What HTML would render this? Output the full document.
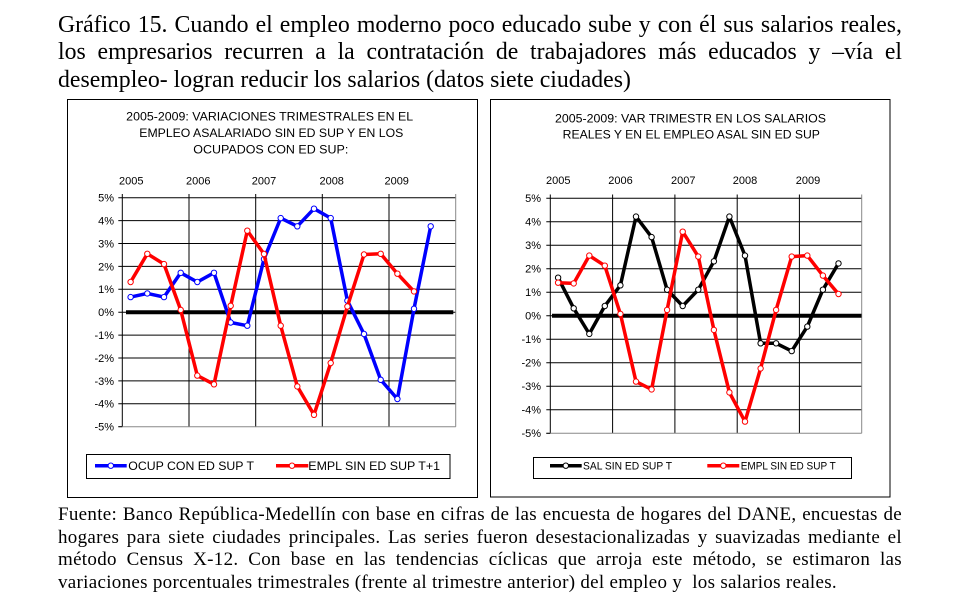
<!DOCTYPE html>
<html><head><meta charset="utf-8">
<style>
html,body{margin:0;padding:0;background:#fff;}
body{width:963px;height:607px;position:relative;overflow:hidden;}
.ser{font-family:"Liberation Serif","Times New Roman",serif;color:#000;position:absolute;left:58px;width:844px;}
.title{top:11.5px;font-size:23.8px;line-height:27.5px;}
.foot{top:503.8px;font-size:19px;line-height:22.7px;letter-spacing:0.3px;}
.j{text-align:justify;text-align-last:justify;white-space:nowrap;}
.l{text-align:left;white-space:nowrap;}
svg{position:absolute;left:0;top:0;}
svg text{font-family:"Liberation Sans",Arial,sans-serif;fill:#000;}
</style></head><body>
<div class="ser title">
<div class="j">Gráfico 15. Cuando el empleo moderno poco educado sube y con él sus salarios reales,</div>
<div class="j">los empresarios recurren a la contratación de trabajadores más educados y –vía el</div>
<div class="l">desempleo- logran reducir los salarios (datos siete ciudades)</div>
</div>
<div class="ser foot">
<div class="j">Fuente: Banco República-Medellín con base en cifras de las encuesta de hogares del DANE, encuestas de</div>
<div class="j">hogares para siete ciudades principales. Las series fueron desestacionalizadas y suavizadas mediante el</div>
<div class="j">método Census X-12. Con base en las tendencias cíclicas que arroja este método, se estimaron las</div>
<div class="l">variaciones porcentuales trimestrales (frente al trimestre anterior) del empleo y &nbsp;los salarios reales.</div>
</div>

<svg width="963" height="607" viewBox="0 0 963 607">
<!-- LEFT CHART -->
<rect x="67.5" y="99.5" width="410" height="398" fill="none" stroke="#000" stroke-width="1"/>
<text x="269.7" y="120.3" font-size="12" text-anchor="middle" textLength="287" lengthAdjust="spacingAndGlyphs">2005-2009: VARIACIONES TRIMESTRALES EN EL</text>
<text x="271.3" y="137" font-size="12" text-anchor="middle" textLength="264" lengthAdjust="spacingAndGlyphs">EMPLEO ASALARIADO SIN ED SUP Y EN LOS</text>
<text x="270.8" y="153.6" font-size="12" text-anchor="middle" textLength="155" lengthAdjust="spacingAndGlyphs">OCUPADOS CON ED SUP:</text>
<g font-size="11" text-anchor="middle">
<text x="131.3" y="184.3">2005</text>
<text x="198.3" y="184.3">2006</text>
<text x="264" y="184.3">2007</text>
<text x="331.7" y="184.3">2008</text>
<text x="396.7" y="184.3">2009</text>
</g>
<g stroke="#000" stroke-width="1">
<line x1="118.3" y1="197.7" x2="455.7" y2="197.7"/>
<line x1="118.3" y1="220.6" x2="455.7" y2="220.6"/>
<line x1="118.3" y1="243.5" x2="455.7" y2="243.5"/>
<line x1="118.3" y1="266.4" x2="455.7" y2="266.4"/>
<line x1="118.3" y1="289.3" x2="455.7" y2="289.3"/>
<line x1="118.3" y1="312.2" x2="455.7" y2="312.2"/>
<line x1="118.3" y1="335.1" x2="455.7" y2="335.1"/>
<line x1="118.3" y1="358.0" x2="455.7" y2="358.0"/>
<line x1="118.3" y1="380.9" x2="455.7" y2="380.9"/>
<line x1="118.3" y1="403.8" x2="455.7" y2="403.8"/>
<line x1="122.3" y1="194" x2="122.3" y2="426.7"/>
<line x1="189.0" y1="194" x2="189.0" y2="426.7"/>
<line x1="255.7" y1="194" x2="255.7" y2="426.7"/>
<line x1="322.3" y1="194" x2="322.3" y2="426.7"/>
<line x1="389.0" y1="194" x2="389.0" y2="426.7"/>
</g>
<line x1="118.3" y1="426.7" x2="455.7" y2="426.7" stroke="#888" stroke-width="1"/>
<line x1="455.7" y1="194" x2="455.7" y2="426.7" stroke="#888" stroke-width="1"/>
<line x1="118.3" y1="426.7" x2="122.3" y2="426.7" stroke="#000" stroke-width="1"/>
<g font-size="11" text-anchor="end">
<text x="114" y="201.6">5%</text>
<text x="114" y="224.5">4%</text>
<text x="114" y="247.4">3%</text>
<text x="114" y="270.3">2%</text>
<text x="114" y="293.2">1%</text>
<text x="114" y="316.1">0%</text>
<text x="114" y="339">-1%</text>
<text x="114" y="361.9">-2%</text>
<text x="114" y="384.8">-3%</text>
<text x="114" y="407.7">-4%</text>
<text x="114" y="430.6">-5%</text>
</g>
<line x1="126" y1="312.2" x2="453.3" y2="312.2" stroke="#000" stroke-width="4"/>
<polyline fill="none" stroke="#0000ff" stroke-width="3.5" stroke-linejoin="round" points="130.6,297.1 147.3,293.4 164.0,297.1 180.7,272.8 197.3,282.0 214.0,272.8 230.7,322.5 247.3,325.7 264.0,259.1 280.7,218.1 297.3,226.3 314.0,208.7 330.7,218.1 347.4,300.7 364.0,334.0 380.7,379.8 397.4,399.0 414.0,308.8 430.7,226.3"/>
<g fill="#fff" stroke="#0000ff" stroke-width="1">
<circle cx="130.6" cy="297.1" r="2.7"/><circle cx="147.3" cy="293.4" r="2.7"/><circle cx="164.0" cy="297.1" r="2.7"/><circle cx="180.7" cy="272.8" r="2.7"/><circle cx="197.3" cy="282.0" r="2.7"/><circle cx="214.0" cy="272.8" r="2.7"/><circle cx="230.7" cy="322.5" r="2.7"/><circle cx="247.3" cy="325.7" r="2.7"/><circle cx="264.0" cy="259.1" r="2.7"/><circle cx="280.7" cy="218.1" r="2.7"/><circle cx="297.3" cy="226.3" r="2.7"/><circle cx="314.0" cy="208.7" r="2.7"/><circle cx="330.7" cy="218.1" r="2.7"/><circle cx="347.4" cy="300.7" r="2.7"/><circle cx="364.0" cy="334.0" r="2.7"/><circle cx="380.7" cy="379.8" r="2.7"/><circle cx="397.4" cy="399.0" r="2.7"/><circle cx="414.0" cy="308.8" r="2.7"/><circle cx="430.7" cy="226.3" r="2.7"/>
</g>
<polyline fill="none" stroke="#ff0000" stroke-width="3.5" stroke-linejoin="round" points="130.6,282.0 147.3,253.8 164.0,264.1 180.7,309.9 197.3,375.6 214.0,384.3 230.7,305.8 247.3,230.7 264.0,254.0 280.7,325.7 297.3,386.4 314.0,414.8 330.7,363.0 347.4,306.5 364.0,254.5 380.7,253.8 397.4,273.7 414.0,291.4"/>
<g fill="#fff" stroke="#ff0000" stroke-width="1">
<circle cx="130.6" cy="282.0" r="2.7"/><circle cx="147.3" cy="253.8" r="2.7"/><circle cx="164.0" cy="264.1" r="2.7"/><circle cx="180.7" cy="309.9" r="2.7"/><circle cx="197.3" cy="375.6" r="2.7"/><circle cx="214.0" cy="384.3" r="2.7"/><circle cx="230.7" cy="305.8" r="2.7"/><circle cx="247.3" cy="230.7" r="2.7"/><circle cx="264.0" cy="254.0" r="2.7"/><circle cx="280.7" cy="325.7" r="2.7"/><circle cx="297.3" cy="386.4" r="2.7"/><circle cx="314.0" cy="414.8" r="2.7"/><circle cx="330.7" cy="363.0" r="2.7"/><circle cx="347.4" cy="306.5" r="2.7"/><circle cx="364.0" cy="254.5" r="2.7"/><circle cx="380.7" cy="253.8" r="2.7"/><circle cx="397.4" cy="273.7" r="2.7"/><circle cx="414.0" cy="291.4" r="2.7"/>
</g>
<!-- left legend -->
<rect x="86.5" y="454.5" width="363.5" height="24" fill="#fff" stroke="#000" stroke-width="1"/>
<line x1="95" y1="465.7" x2="126.7" y2="465.7" stroke="#0000ff" stroke-width="3.5"/>
<circle cx="110.8" cy="465.7" r="2.7" fill="#fff" stroke="#0000ff" stroke-width="1"/>
<text x="128.3" y="470" font-size="12" textLength="125.7" lengthAdjust="spacingAndGlyphs">OCUP CON ED SUP T</text>
<line x1="276" y1="465.7" x2="308.3" y2="465.7" stroke="#ff0000" stroke-width="3.5"/>
<circle cx="292" cy="465.7" r="2.7" fill="#fff" stroke="#ff0000" stroke-width="1"/>
<text x="308.3" y="470" font-size="12" textLength="131.7" lengthAdjust="spacingAndGlyphs">EMPL SIN ED SUP T+1</text>

<!-- RIGHT CHART -->
<rect x="490.5" y="99.5" width="399.5" height="397.5" fill="none" stroke="#000" stroke-width="1"/>
<text x="690.5" y="122.6" font-size="12" text-anchor="middle" textLength="271" lengthAdjust="spacingAndGlyphs">2005-2009: VAR TRIMESTR  EN LOS SALARIOS</text>
<text x="691.3" y="138.6" font-size="12" text-anchor="middle" textLength="257.3" lengthAdjust="spacingAndGlyphs">REALES Y EN EL EMPLEO ASAL SIN ED SUP</text>
<g font-size="11" text-anchor="middle">
<text x="558.3" y="184">2005</text>
<text x="620.5" y="184">2006</text>
<text x="683.3" y="184">2007</text>
<text x="745" y="184">2008</text>
<text x="808" y="184">2009</text>
</g>
<g stroke="#000" stroke-width="1">
<line x1="546.3" y1="198.3" x2="861.7" y2="198.3"/>
<line x1="546.3" y1="221.8" x2="861.7" y2="221.8"/>
<line x1="546.3" y1="245.3" x2="861.7" y2="245.3"/>
<line x1="546.3" y1="268.8" x2="861.7" y2="268.8"/>
<line x1="546.3" y1="292.3" x2="861.7" y2="292.3"/>
<line x1="546.3" y1="315.8" x2="861.7" y2="315.8"/>
<line x1="546.3" y1="339.3" x2="861.7" y2="339.3"/>
<line x1="546.3" y1="362.8" x2="861.7" y2="362.8"/>
<line x1="546.3" y1="386.3" x2="861.7" y2="386.3"/>
<line x1="546.3" y1="409.8" x2="861.7" y2="409.8"/>
<line x1="550.3" y1="194.5" x2="550.3" y2="433.3"/>
<line x1="612.6" y1="194.5" x2="612.6" y2="433.3"/>
<line x1="674.9" y1="194.5" x2="674.9" y2="433.3"/>
<line x1="737.2" y1="194.5" x2="737.2" y2="433.3"/>
<line x1="799.4" y1="194.5" x2="799.4" y2="433.3"/>
</g>
<line x1="546.3" y1="433.3" x2="861.7" y2="433.3" stroke="#888" stroke-width="1"/>
<line x1="861.7" y1="194.5" x2="861.7" y2="433.3" stroke="#888" stroke-width="1"/>
<line x1="546.3" y1="433.3" x2="550.3" y2="433.3" stroke="#000" stroke-width="1"/>
<g font-size="11" text-anchor="end">
<text x="541" y="202.2">5%</text>
<text x="541" y="225.7">4%</text>
<text x="541" y="249.2">3%</text>
<text x="541" y="272.7">2%</text>
<text x="541" y="296.2">1%</text>
<text x="541" y="319.7">0%</text>
<text x="541" y="343.2">-1%</text>
<text x="541" y="366.7">-2%</text>
<text x="541" y="390.2">-3%</text>
<text x="541" y="413.7">-4%</text>
<text x="541" y="437.2">-5%</text>
</g>
<line x1="552" y1="315.8" x2="861.5" y2="315.8" stroke="#000" stroke-width="4"/>
<polyline fill="none" stroke="#000" stroke-width="3.5" stroke-linejoin="round" points="558.1,277.7 573.7,308.3 589.3,333.9 604.8,306.0 620.4,285.3 636.0,216.6 651.6,237.1 667.1,289.7 682.7,306.0 698.3,289.7 713.9,261.3 729.4,216.6 745.0,255.6 760.6,343.3 776.1,343.3 791.7,351.1 807.3,326.6 822.9,289.7 838.5,263.4"/>
<g fill="#fff" stroke="#000" stroke-width="1">
<circle cx="558.1" cy="277.7" r="2.7"/><circle cx="573.7" cy="308.3" r="2.7"/><circle cx="589.3" cy="333.9" r="2.7"/><circle cx="604.8" cy="306.0" r="2.7"/><circle cx="620.4" cy="285.3" r="2.7"/><circle cx="636.0" cy="216.6" r="2.7"/><circle cx="651.6" cy="237.1" r="2.7"/><circle cx="667.1" cy="289.7" r="2.7"/><circle cx="682.7" cy="306.0" r="2.7"/><circle cx="698.3" cy="289.7" r="2.7"/><circle cx="713.9" cy="261.3" r="2.7"/><circle cx="729.4" cy="216.6" r="2.7"/><circle cx="745.0" cy="255.6" r="2.7"/><circle cx="760.6" cy="343.3" r="2.7"/><circle cx="776.1" cy="343.3" r="2.7"/><circle cx="791.7" cy="351.1" r="2.7"/><circle cx="807.3" cy="326.6" r="2.7"/><circle cx="822.9" cy="289.7" r="2.7"/><circle cx="838.5" cy="263.4" r="2.7"/>
</g>
<polyline fill="none" stroke="#ff0000" stroke-width="3.5" stroke-linejoin="round" points="558.1,282.7 573.7,283.4 589.3,255.6 604.8,265.7 620.4,313.9 636.0,381.6 651.6,389.4 667.1,309.9 682.7,231.7 698.3,256.6 713.9,329.9 729.4,392.4 745.0,421.6 760.6,368.4 776.1,309.9 791.7,256.6 807.3,255.6 822.9,275.6 838.5,294.0"/>
<g fill="#fff" stroke="#ff0000" stroke-width="1">
<circle cx="558.1" cy="282.7" r="2.7"/><circle cx="573.7" cy="283.4" r="2.7"/><circle cx="589.3" cy="255.6" r="2.7"/><circle cx="604.8" cy="265.7" r="2.7"/><circle cx="620.4" cy="313.9" r="2.7"/><circle cx="636.0" cy="381.6" r="2.7"/><circle cx="651.6" cy="389.4" r="2.7"/><circle cx="667.1" cy="309.9" r="2.7"/><circle cx="682.7" cy="231.7" r="2.7"/><circle cx="698.3" cy="256.6" r="2.7"/><circle cx="713.9" cy="329.9" r="2.7"/><circle cx="729.4" cy="392.4" r="2.7"/><circle cx="745.0" cy="421.6" r="2.7"/><circle cx="760.6" cy="368.4" r="2.7"/><circle cx="776.1" cy="309.9" r="2.7"/><circle cx="791.7" cy="256.6" r="2.7"/><circle cx="807.3" cy="255.6" r="2.7"/><circle cx="822.9" cy="275.6" r="2.7"/><circle cx="838.5" cy="294.0" r="2.7"/>
</g>
<!-- right legend -->
<rect x="533.5" y="457.5" width="318" height="21" fill="#fff" stroke="#000" stroke-width="1"/>
<line x1="550" y1="465.7" x2="581.7" y2="465.7" stroke="#000" stroke-width="3.5"/>
<circle cx="565.8" cy="465.7" r="2.7" fill="#fff" stroke="#000" stroke-width="1"/>
<text x="583" y="469.6" font-size="11" textLength="89" lengthAdjust="spacingAndGlyphs">SAL SIN ED SUP T</text>
<line x1="707.3" y1="465.7" x2="739.3" y2="465.7" stroke="#ff0000" stroke-width="3.5"/>
<circle cx="723.3" cy="465.7" r="2.7" fill="#fff" stroke="#ff0000" stroke-width="1"/>
<text x="740.7" y="469.6" font-size="11" textLength="95" lengthAdjust="spacingAndGlyphs">EMPL SIN ED SUP T</text>
</svg>
</body></html>
